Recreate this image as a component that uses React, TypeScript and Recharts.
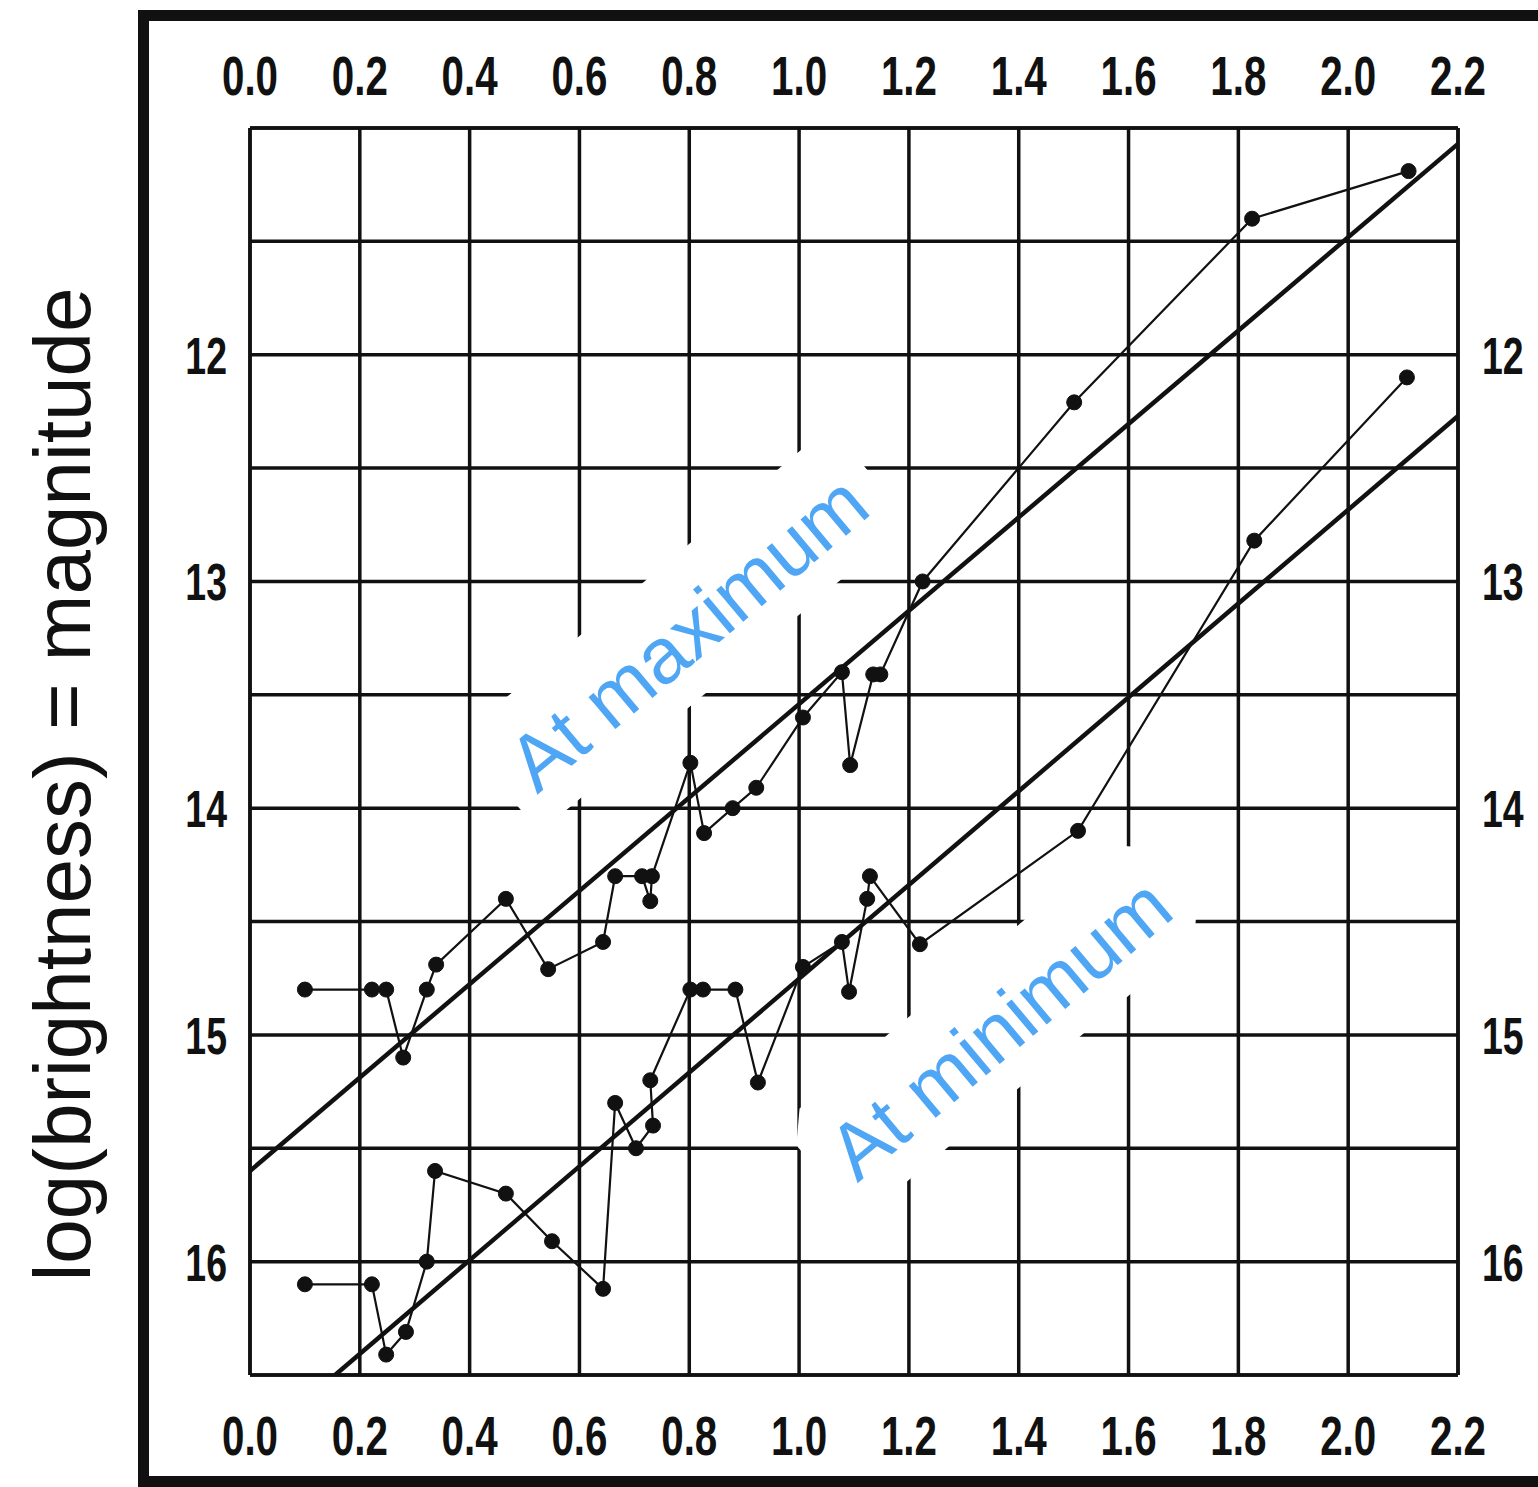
import React from 'react';
import { LineChart, Line, XAxis, YAxis, CartesianGrid, ReferenceDot } from 'recharts';

// log(period) ticks along the top and bottom
const logPeriodTicks = [0, 0.2, 0.4, 0.6, 0.8, 1.0, 1.2, 1.4, 1.6, 1.8, 2.0, 2.2];
// magnitude grid every half magnitude, labelled on whole ones
const magnitudeTicks = [11, 11.5, 12, 12.5, 13, 13.5, 14, 14.5, 15, 15.5, 16, 16.5];
const magnitudeLabels = [12, 13, 14, 15, 16];

// stars at maximum light
const maxLogP = [
  0.1, 0.222, 0.248, 0.279, 0.322, 0.339, 0.466, 0.543, 0.643, 0.665, 0.714, 0.729, 0.732,
  0.802, 0.827, 0.879, 0.922, 1.007, 1.078, 1.093, 1.135, 1.148, 1.225, 1.501, 1.825, 2.11,
];
const maxMag = [
  14.8, 14.8, 14.8, 15.1, 14.8, 14.69, 14.4, 14.71, 14.59, 14.3, 14.3, 14.41, 14.3,
  13.8, 14.11, 14.0, 13.91, 13.6, 13.4, 13.81, 13.41, 13.41, 13.0, 12.21, 11.4, 11.19,
];

// same stars at minimum light
const minLogP = [
  0.1, 0.222, 0.248, 0.284, 0.322, 0.337, 0.466, 0.55, 0.643, 0.665, 0.703, 0.734, 0.729,
  0.802, 0.825, 0.884, 0.925, 1.007, 1.078, 1.091, 1.124, 1.129, 1.22, 1.508, 1.829, 2.107,
];
const minMag = [
  16.1, 16.1, 16.41, 16.31, 16.0, 15.6, 15.7, 15.91, 16.12, 15.3, 15.5, 15.4, 15.2,
  14.8, 14.8, 14.8, 15.21, 14.7, 14.59, 14.81, 14.4, 14.3, 14.6, 14.1, 12.82, 12.1,
];

// straight-line fits drawn through each set
const maxFitLogP = [0, 2.2];
const maxFitMag = [15.6, 11.07];
const minFitLogP = [0.155, 2.2];
const minFitMag = [16.5, 12.27];

const toPoints = (xs: number[], ys: number[]) => xs.map((logP, i) => ({ logP, mag: ys[i] }));

const maxData = toPoints(maxLogP, maxMag);
const minData = toPoints(minLogP, minMag);
const maxFit = toPoints(maxFitLogP, maxFitMag);
const minFit = toPoints(minFitLogP, minFitMag);

const INK = '#111';
const BLUE = '#4fa6f5';
const TICK_FONT = "'Liberation Sans', Arial, sans-serif";
const SANS = "'Liberation Sans', Arial, sans-serif";

const W = 1538;
const H = 1487;

const XTick = ({ x, y, payload, side }: any) => (
  <g transform={`translate(${x}, ${side === 'top' ? y - 33 : y + 80})`}>
    <text
      transform="scale(0.72, 1)"
      textAnchor="middle"
      fontFamily={TICK_FONT}
      fontWeight="bold"
      fontSize={56}
      fill={INK}
    >
      {Number(payload.value).toFixed(1)}
    </text>
  </g>
);

const YTick = ({ x, y, payload, side }: any) => {
  if (!magnitudeLabels.includes(payload.value)) return null;
  return (
    <g transform={`translate(${side === 'left' ? x - 23 : x + 24}, ${y + 19})`}>
      <text
        transform="scale(0.72, 1)"
        textAnchor={side === 'left' ? 'end' : 'start'}
        fontFamily={TICK_FONT}
        fontWeight="bold"
        fontSize={52}
        fill={INK}
      >
        {payload.value}
      </text>
    </g>
  );
};

const YTitle = ({ viewBox }: any) => {
  const tx = viewBox.x - 80;
  const ty = viewBox.y + viewBox.height / 2 + 33;
  return (
    <text
      x={tx}
      y={ty}
      transform={`rotate(-90, ${tx}, ${ty})`}
      textAnchor="middle"
      fontFamily={SANS}
      fontSize={80}
      fill={INK}
    >
      log(brightness) = magnitude
    </text>
  );
};

const SeriesTag = ({ cx, cy, text, width }: any) => {
  const h = 125;
  const c = 26;
  const w = width;
  const pts = [
    [-w / 2 + c, -h / 2],
    [w / 2 - c, -h / 2],
    [w / 2, -h / 2 + c],
    [w / 2, h / 2 - c],
    [w / 2 - c, h / 2],
    [-w / 2 + c, h / 2],
    [-w / 2, h / 2 - c],
    [-w / 2, -h / 2 + c],
  ]
    .map((p) => p.join(','))
    .join(' ');
  return (
    <g transform={`translate(${cx}, ${cy}) rotate(-40)`}>
      <polygon points={pts} fill="#fff" />
      <text x={0} y={32} textAnchor="middle" fontFamily={SANS} fontSize={79} fill={BLUE}>
        {text}
      </text>
    </g>
  );
};

export default function App() {
  return (
    <div
      style={{
        position: 'absolute',
        left: 0,
        top: 0,
        width: W,
        height: H,
        overflow: 'hidden',
        background: '#fff',
      }}
    >
      {/* printed frame: top, left and bottom edges; the right one is off the page */}
      <svg
        width={W}
        height={H}
        style={{ position: 'absolute', left: 0, top: 0, display: 'block' }}
      >
        <path
          d={`M ${W + 20} 15.5 H 143.5 V 1481.5 H ${W + 20}`}
          fill="none"
          stroke={INK}
          strokeWidth={11}
        />
      </svg>
      <div style={{ position: 'absolute', left: 0, top: 0 }}>
        <LineChart width={W} height={H} margin={{ top: 48, right: 0, bottom: 32, left: 170 }}>
          <CartesianGrid xAxisId="top" yAxisId="left" stroke={INK} strokeWidth={3.5} />
          <XAxis
            xAxisId="top"
            orientation="top"
            type="number"
            dataKey="logP"
            domain={[0, 2.2]}
            ticks={logPeriodTicks}
            height={80}
            tickSize={0}
            tickMargin={0}
            axisLine={{ stroke: INK, strokeWidth: 3.5 }}
            tick={<XTick side="top" />}
            interval={0}
          />
          <XAxis
            xAxisId="bottom"
            orientation="bottom"
            type="number"
            dataKey="logP"
            domain={[0, 2.2]}
            ticks={logPeriodTicks}
            height={80}
            tickSize={0}
            tickMargin={0}
            axisLine={{ stroke: INK, strokeWidth: 3.5 }}
            tick={<XTick side="bottom" />}
            interval={0}
          />
          <YAxis
            yAxisId="left"
            orientation="left"
            type="number"
            domain={[11, 16.5]}
            reversed
            ticks={magnitudeTicks}
            width={80}
            tickSize={0}
            tickMargin={0}
            axisLine={{ stroke: INK, strokeWidth: 3.5 }}
            tick={<YTick side="left" />}
            interval={0}
            label={<YTitle />}
          />
          <YAxis
            yAxisId="right"
            orientation="right"
            type="number"
            domain={[11, 16.5]}
            reversed
            ticks={magnitudeTicks}
            width={80}
            tickSize={0}
            tickMargin={0}
            axisLine={{ stroke: INK, strokeWidth: 3.5 }}
            tick={<YTick side="right" />}
            interval={0}
          />
          <Line
            xAxisId="top"
            yAxisId="left"
            data={maxFit}
            dataKey="mag"
            stroke={INK}
            strokeWidth={4.5}
            dot={false}
            isAnimationActive={false}
          />
          <Line
            xAxisId="bottom"
            yAxisId="right"
            data={minFit}
            dataKey="mag"
            stroke={INK}
            strokeWidth={4.5}
            dot={false}
            isAnimationActive={false}
          />
          <Line
            xAxisId="top"
            yAxisId="left"
            data={maxData}
            dataKey="mag"
            stroke={INK}
            strokeWidth={2.2}
            dot={{ r: 7.5, fill: INK, stroke: INK, strokeWidth: 1 }}
            isAnimationActive={false}
          />
          <Line
            xAxisId="bottom"
            yAxisId="right"
            data={minData}
            dataKey="mag"
            stroke={INK}
            strokeWidth={2.2}
            dot={{ r: 7.5, fill: INK, stroke: INK, strokeWidth: 1 }}
            isAnimationActive={false}
          />
          <ReferenceDot
            xAxisId="top"
            yAxisId="left"
            x={0.792}
            y={13.21}
            r={1}
            shape={(p: any) => <SeriesTag cx={p.cx} cy={p.cy} text="At maximum" width={484} />}
          />
          <ReferenceDot
            xAxisId="top"
            yAxisId="left"
            x={1.36}
            y={14.955}
            r={1}
            shape={(p: any) => <SeriesTag cx={p.cx} cy={p.cy} text="At minimum" width={462} />}
          />
        </LineChart>
      </div>
    </div>
  );
}
